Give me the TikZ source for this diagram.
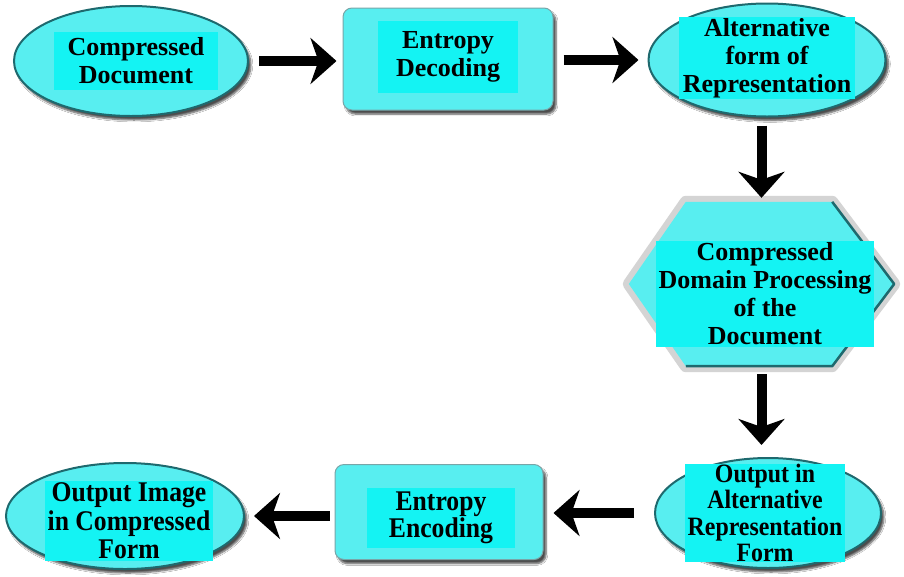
\documentclass[tikz,border=0pt]{standalone}
\usepackage{fontspec}
\setmainfont{Liberation Serif}
\newfontfamily\tallfont[FakeStretch=0.9]{Liberation Serif}
\usetikzlibrary{shapes.geometric,arrows.meta,shadows.blur,calc}
\definecolor{shapefill}{RGB}{88,238,240}
\definecolor{hl}{RGB}{20,243,243}
\definecolor{rim}{RGB}{30,105,110}
\definecolor{hexgray}{RGB}{212,212,212}
\begin{document}
\begin{tikzpicture}[x=1pt,y=-1pt,
  shadowed/.style={blur shadow={shadow xshift=3pt,shadow yshift=-4pt,shadow blur steps=6,shadow opacity=70}},
  blob/.style={ellipse, fill=shapefill, draw=rim, line width=2pt, inner sep=0pt, shadowed},
  boxnode/.style={rectangle, rounded corners=9pt, fill=shapefill, draw=rim!60, line width=1pt, inner sep=0pt, shadowed},
  txt/.style={fill=hl, align=center, text=black, inner xsep=10pt, inner ysep=4pt,
    font=\fontsize{26}{28}\selectfont\bfseries},
  ttxt/.style={txt, font=\fontsize{28.5}{28.5}\tallfont\bfseries},
  flow/.style={line width=10pt, -{Stealth[length=26pt,width=46pt,inset=8pt]}}
]
\fill[white] (0,0) rectangle (904,576);
\useasboundingbox (0,0) rectangle (904,576);

% top row
\node[blob, minimum width=234pt, minimum height=110pt] (e1) at (131,61) {};
\node[txt, inner xsep=14pt, inner ysep=6pt] (e1t) at (136,61) {Compressed\\Document};

\node[boxnode, minimum width=210pt, minimum height=102pt] (b2) at (448,59) {};
\node[txt, minimum width=140pt, minimum height=72pt] (b2t) at (448,57) {Entropy\\Decoding};

\node[blob, minimum width=237pt, minimum height=113pt] (e3) at (767,60) {};
\node[txt, inner xsep=4pt, inner ysep=1pt] (e3t) at (767,58) {Alternative\\form of\\Representation};

% hexagon
\node[minimum width=265pt, minimum height=164pt, inner sep=0pt] (hx) at (761.5,284) {};
\draw[hexgray, line width=12pt, line join=round]
  (hx.west) -- ($(hx.north west)+(57,0)$) -- ($(hx.north east)+(-62,0)$) -- (hx.east)
  -- ($(hx.south east)+(-62,0)$) -- ($(hx.south west)+(57,0)$) -- cycle;
\fill[shapefill]
  (hx.west) -- ($(hx.north west)+(57,0)$) -- ($(hx.north east)+(-62,0)$) -- (hx.east)
  -- ($(hx.south east)+(-62,0)$) -- ($(hx.south west)+(57,0)$) -- cycle;
\draw[rim, line width=2.5pt, line join=round]
  ($(hx.north east)+(-62,0)$) -- (hx.east) -- ($(hx.south east)+(-62,0)$) -- ($(hx.south west)+(57,0)$);
\node[txt, inner xsep=3pt, inner ysep=2pt] (hxt) at (765,294) {Compressed\\Domain Processing\\of the\\Document};

% bottom row
\node[blob, minimum width=226pt, minimum height=110pt] (e5) at (768,513) {};
\node[ttxt, inner xsep=3pt, inner ysep=0pt, font=\fontsize{26.5}{26.5}\tallfont\bfseries] (e5t) at (765,513) {Output in\\Alternative\\Representation\\Form};

\node[boxnode, minimum width=208pt, minimum height=95pt] (b6) at (439,512) {};
\node[ttxt, minimum width=148pt, minimum height=59pt, font=\fontsize{28.5}{27}\tallfont\bfseries] (b6t) at (441,518) {Entropy\\Encoding};

\node[blob, minimum width=238pt, minimum height=106pt] (e7) at (125,516) {};
\node[ttxt, inner xsep=3pt, inner ysep=2pt] (e7t) at (129,521) {Output Image\\in Compressed\\Form};

% connectors
\draw[flow, shorten <=10pt, shorten >=6pt] (e1.east) -- (b2.west |- e1.east);
\draw[flow, shorten <=10pt, shorten >=9pt] (b2.east |- e3.west) -- (e3.west);
\draw[flow, shorten <=8pt, shorten >=4pt] (e3.south -| hx.north) -- (hx.north);
\draw[flow, shorten <=8pt, shorten >=12pt] (hx.south) -- (hx.south |- e5.north);
\draw[flow, shorten <=20pt, shorten >=10pt] (e5.west) -- (b6.east |- e5.west);
\draw[flow, shorten <=5pt, shorten >=9pt] (b6.west |- e7.east) -- (e7.east);
\end{tikzpicture}
\end{document}
